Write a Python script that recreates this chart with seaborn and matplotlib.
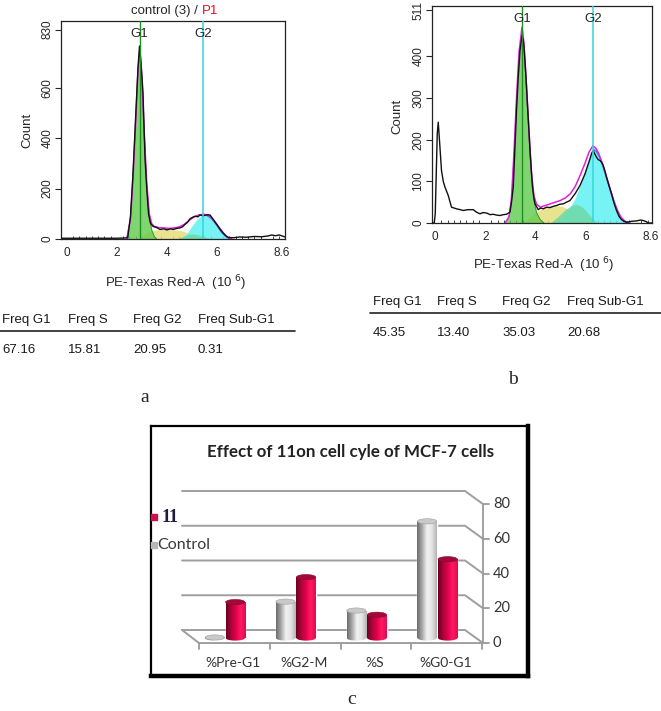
import numpy as np
import pandas as pd
import seaborn as sns
import matplotlib.pyplot as plt
from matplotlib.colors import LinearSegmentedColormap
from matplotlib.patches import Ellipse
from matplotlib.ticker import MultipleLocator

# ---- panel a: control histogram (x in 10^6, y = count) ----
a_black_x = [-0.23, 0.5, 1.0, 1.5, 2.0, 2.3, 2.44, 2.55, 2.65, 2.75, 2.85, 2.91, 2.97, 3.05, 3.13, 3.2,
             3.27, 3.35, 3.45, 3.6, 3.73, 3.9, 4.0, 4.15, 4.27, 4.4, 4.53, 4.63, 4.73, 4.83, 4.93, 5.03,
             5.13, 5.25, 5.33, 5.45, 5.53, 5.63, 5.73, 5.8, 5.87, 5.97, 6.07, 6.17, 6.27, 6.37, 6.47,
             6.67, 6.9, 7.2, 7.5, 7.8, 8.05, 8.2, 8.35, 8.5, 8.73]
a_black_y = [3, 3, 3, 3, 3, 4, 5, 90, 260, 470, 680, 765, 700, 580, 320, 200,
             100, 62, 50, 45, 38, 40, 36, 40, 38, 42, 44, 48, 58, 66, 80, 86,
             90, 88, 95, 92, 94, 96, 95, 86, 76, 62, 48, 34, 22, 12, 6,
             5, 8, 7, 10, 9, 12, 16, 13, 16, 8]
a_fit_x = [2.4, 2.55, 2.65, 2.75, 2.85, 2.92, 3.0, 3.1, 3.2, 3.3, 3.4, 3.5, 3.7, 3.9, 4.1, 4.3, 4.5,
           4.7, 4.9, 5.1, 5.3, 5.5, 5.7, 5.9, 6.1, 6.3, 6.45, 6.6]
a_fit_y = [0, 80, 240, 450, 670, 745, 650, 420, 220, 100, 60, 50, 45, 44, 42, 44, 48,
           58, 74, 88, 96, 98, 92, 72, 45, 20, 6, 0]
a_g1_x = [2.4, 2.55, 2.65, 2.75, 2.85, 2.92, 3.0, 3.1, 3.2, 3.3, 3.4, 3.5, 3.6]
a_g1_y = [0, 80, 240, 440, 660, 740, 640, 410, 210, 90, 35, 10, 0]
a_s_x = [2.9, 3.1, 3.3, 3.5, 3.8, 4.1, 4.4, 4.7, 5.0, 5.2, 5.4]
a_s_y = [0, 20, 30, 36, 38, 38, 36, 30, 18, 8, 0]
a_mid_x = [4.4, 4.7, 5.0, 5.2, 5.4, 5.6, 5.8]
a_mid_y = [0, 12, 20, 18, 12, 5, 0]
a_g2_x = [4.6, 4.8, 5.0, 5.2, 5.4, 5.6, 5.8, 6.0, 6.2, 6.4, 6.55]
a_g2_y = [0, 20, 50, 78, 92, 94, 80, 55, 25, 7, 0]

# ---- panel b: treated histogram ----
b_black_x = [-0.13, -0.04, 0.0, 0.04, 0.08, 0.12, 0.17, 0.25, 0.32, 0.39, 0.52, 0.65, 0.75, 0.85, 1.0,
             1.12, 1.3, 1.52, 1.65, 1.79, 1.9, 2.05, 2.2, 2.32, 2.45, 2.59, 2.72, 2.85, 2.99, 3.05,
             3.12, 3.18, 3.25, 3.32, 3.39, 3.47, 3.52, 3.56, 3.62, 3.68, 3.74, 3.79, 3.84, 3.89, 3.94,
             3.99, 4.12, 4.22, 4.32, 4.45, 4.59, 4.72, 4.85, 4.98, 5.12, 5.25, 5.39, 5.49, 5.59, 5.69,
             5.79, 5.89, 5.99, 6.09, 6.19, 6.26, 6.32, 6.38, 6.45, 6.52, 6.59, 6.65, 6.72, 6.79, 6.85,
             6.95, 7.05, 7.15, 7.25, 7.35, 7.45, 7.55, 7.65, 7.85, 8.05, 8.2, 8.32, 8.45, 8.52, 8.67]
b_black_y = [0, 0, 22, 118, 214, 242, 198, 126, 100, 86, 66, 38, 36, 34, 32,
             30, 32, 32, 26, 22, 25, 24, 20, 21, 19, 18, 20, 21, 26, 50,
             86, 170, 270, 350, 414, 450, 440, 414, 360, 294, 230, 174, 130, 86, 62,
             46, 32, 36, 34, 38, 37, 40, 42, 45, 46, 50, 54, 62, 70, 80,
             90, 104, 118, 136, 154, 168, 174, 166, 158, 152, 150, 146, 138, 124, 110,
             90, 70, 48, 30, 16, 8, 4, 2, 4, 5, 7, 6, 3, 0, 0]
b_fit_x = [2.8, 2.95, 3.05, 3.15, 3.25, 3.35, 3.47, 3.55, 3.65, 3.75, 3.85, 3.95, 4.05, 4.2, 4.4,
           4.6, 4.8, 5.0, 5.2, 5.4, 5.6, 5.8, 6.0, 6.15, 6.3, 6.42, 6.55, 6.7, 6.85, 7.0, 7.15,
           7.3, 7.45, 7.6, 7.75]
b_fit_y = [0, 15, 60, 170, 300, 410, 470, 430, 330, 220, 120, 65, 45, 38, 42,
           46, 50, 54, 60, 70, 88, 115, 145, 170, 185, 180, 165, 140, 110, 80, 52,
           28, 12, 3, 0]
b_g1_x = [2.8, 2.95, 3.05, 3.15, 3.25, 3.35, 3.47, 3.55, 3.65, 3.75, 3.85, 3.95, 4.05, 4.2, 4.35]
b_g1_y = [0, 12, 50, 160, 290, 400, 460, 420, 320, 210, 110, 55, 25, 8, 0]
b_s_x = [3.5, 3.8, 4.0, 4.2, 4.5, 4.8, 5.1, 5.4, 5.7, 6.0, 6.2]
b_s_y = [0, 15, 25, 32, 40, 42, 40, 30, 18, 6, 0]
b_mid_x = [4.6, 4.9, 5.2, 5.45, 5.65, 5.85, 6.05, 6.3, 6.5]
b_mid_y = [0, 15, 32, 42, 45, 40, 28, 10, 0]
b_g2_x = [4.7, 5.0, 5.3, 5.6, 5.85, 6.05, 6.2, 6.32, 6.45, 6.6, 6.8, 7.0, 7.2, 7.4, 7.6, 7.8]
b_g2_y = [0, 10, 28, 60, 100, 140, 165, 178, 172, 155, 120, 80, 42, 15, 4, 0]

# ---- tables ----
freq_headers = ['Freq G1', 'Freq S', 'Freq G2', 'Freq Sub-G1']
freq_control = ['67.16', '15.81', '20.95', '0.31']
freq_treated = ['45.35', '13.40', '35.03', '20.68']

# ---- panel c: bar chart ----
phases = ['%Pre-G1', '%G2-M', '%S', '%G0-G1']
control_pct = [0.31, 20.95, 15.81, 67.16]
treated_pct = [20.68, 35.03, 13.40, 45.35]

sns.set_style('white')
plt.rcParams['font.family'] = ['Liberation Sans', 'DejaVu Sans']

W, H = 661, 711
fig = plt.figure(figsize=(W / 100, H / 100), dpi=100)


def box(l, t, r, b):
    return [l / W, 1 - b / H, (r - l) / W, (b - t) / H]


def ftext(x, y, s, **kw):
    fig.text(x / W, 1 - y / H, s, **kw)


def histogram(ax, d, xlim, ylim, yticks, g1, g2):
    fx = lambda k: d[k + '_x']
    fy = lambda k: d[k + '_y']
    ax.fill_between(fx('s'), fy('s'), color='#e4de7c', alpha=0.85, lw=0, zorder=1)
    ax.fill_between(fx('mid'), fy('mid'), color='#6fd9a6', alpha=0.85, lw=0, zorder=1.2)
    ax.fill_between(fx('g2'), fy('g2'), color='#5ff0f4', alpha=0.85, lw=0, zorder=1.1)
    ax.fill_between(fx('g1'), fy('g1'), color='#5fcc4c', alpha=0.8, lw=0, zorder=1.3)
    pk = int(np.argmax(fy('g2')))
    ax.plot(fx('g2')[pk:], fy('g2')[pk:], color='#3d8fe6', lw=1.1, zorder=1.4)
    ax.plot(fx('g1'), fy('g1'), color='#3a9a30', lw=0.7, zorder=1.4)
    sns.lineplot(x=fx('fit'), y=fy('fit'), color='#e020e0', lw=1.1, estimator=None, ax=ax, zorder=2)
    sns.lineplot(x=fx('black'), y=fy('black'), color='#111111', lw=1.0, estimator=None, ax=ax, zorder=3)
    ax.axvline(g1, color='#1f8f1f', lw=1.0, zorder=4)
    ax.axvline(g2, color='#35d5dd', lw=1.1, zorder=4)
    ax.text(g1, ylim[1] * 0.94, 'G1', ha='center', va='center', fontsize=9.5, zorder=5)
    ax.text(g2, ylim[1] * 0.94, 'G2', ha='center', va='center', fontsize=9.5, zorder=5)
    ax.set_xlim(*xlim)
    ax.set_ylim(*ylim)
    ax.set_xticks([0, 2, 4, 6, 8, 8.6])
    ax.set_xticklabels(['0', '2', '4', '6', '', '8.6'])
    ax.xaxis.set_minor_locator(MultipleLocator(0.25))
    ax.set_yticks(yticks)
    ax.tick_params(axis='x', which='major', direction='out', length=4, width=0.8, labelsize=8.5, pad=2)
    ax.tick_params(axis='x', which='minor', direction='in', length=2.5, width=0.6, bottom=True)
    ax.tick_params(axis='y', direction='out', length=4, width=0.8, labelsize=8.5, pad=1.5, left=True)
    for lab in ax.get_yticklabels():
        lab.set_rotation(90)
        lab.set_va('center')
    for s in ax.spines.values():
        s.set_color('#222222')
        s.set_linewidth(0.9)
    ax.set_xlabel('')
    ax.set_ylabel('')


da = dict(black_x=a_black_x, black_y=a_black_y, fit_x=a_fit_x, fit_y=a_fit_y, g1_x=a_g1_x, g1_y=a_g1_y,
          s_x=a_s_x, s_y=a_s_y, mid_x=a_mid_x, mid_y=a_mid_y, g2_x=a_g2_x, g2_y=a_g2_y)
db = dict(black_x=b_black_x, black_y=b_black_y, fit_x=b_fit_x, fit_y=b_fit_y, g1_x=b_g1_x, g1_y=b_g1_y,
          s_x=b_s_x, s_y=b_s_y, mid_x=b_mid_x, mid_y=b_mid_y, g2_x=b_g2_x, g2_y=b_g2_y)

axa = fig.add_axes(box(61, 21, 285, 239))
histogram(axa, da, (-0.23, 8.73), (0, 864), [0, 200, 400, 600, 830], 2.91, 5.44)
axb = fig.add_axes(box(432, 6, 652, 223))
histogram(axb, db, (-0.13, 8.67), (0, 521), [0, 100, 200, 300, 400, 511], 3.48, 6.32)

# titles and axis labels of the histograms
ftext(201, 11, 'control (3) / ', ha='right', va='center', fontsize=9.5)
ftext(202, 11, 'P1', ha='left', va='center', fontsize=9.5, color='#e0102a')
ftext(27, 130, 'Count', rotation=90, ha='center', va='center', fontsize=9.5)
ftext(397, 116, 'Count', rotation=90, ha='center', va='center', fontsize=9.5)
ftext(175, 283, r'PE-Texas Red-A  (10$^{\ 6}$)', ha='center', va='center', fontsize=9.5)
ftext(543, 265, r'PE-Texas Red-A  (10$^{\ 6}$)', ha='center', va='center', fontsize=9.5)

# frequency tables
for xs, yh, yv, yl, (l0, l1), vals in [([2, 68, 133, 198], 320, 350, 331, (0, 295), freq_control),
                                      ([373, 437, 502, 567], 302, 333, 313, (370, 661), freq_treated)]:
    for x, h, v in zip(xs, freq_headers, vals):
        ftext(x, yh, h, ha='left', va='center', fontsize=9.5, color='#1a1a1a')
        ftext(x, yv, v, ha='left', va='center', fontsize=9.5, color='#1a1a1a')
    fig.add_artist(plt.Line2D([l0 / W, l1 / W], [1 - yl / H] * 2, color='#222222', lw=1.2))

ftext(145, 397, 'a', family='Liberation Serif', fontsize=14, ha='center', va='center')
ftext(513, 380, 'b', family='Liberation Serif', fontsize=14, ha='center', va='center')
ftext(352, 700, 'c', family='Liberation Serif', fontsize=14, ha='center', va='center')

# ---- panel c ----
axc = fig.add_axes(box(151, 426, 528, 676))
df = pd.DataFrame({'phase': phases * 2,
                   'value': control_pct + treated_pct,
                   'group': ['Control'] * 4 + ['11'] * 4})
sns.barplot(data=df, x='phase', y='value', hue='group', order=phases, hue_order=['Control', '11'],
            palette={'Control': '#c8c8c8', '11': '#d0104a'}, width=0.58, gap=0.06,
            errorbar=None, legend=False, ax=axc, zorder=3)

cm_gray = LinearSegmentedColormap.from_list('g', ['#6c6c6c', '#a8a8a8', '#f2f2f2', '#e4e4e4', '#b4b4b4'])
cm_red = LinearSegmentedColormap.from_list('r', ['#6e0022', '#a8063a', '#e4004e', '#ff1a62', '#e00a50'])
cap = 3.0
grad = np.linspace(0, 1, 64).reshape(1, -1)
for p in list(axc.patches):
    x0, w, h = p.get_x(), p.get_width(), p.get_height()
    xc = x0 + w / 2
    red = p.get_facecolor()[1] < 0.3
    cmap = cm_red if red else cm_gray
    bottom = Ellipse((xc, 0), w, cap, fc='none', ec='none')
    axc.add_patch(bottom)
    for clip in (p, bottom):
        im = axc.imshow(grad, extent=[x0, x0 + w, -cap, h], cmap=cmap, aspect='auto',
                        interpolation='bilinear', zorder=3.1)
        im.set_clip_path(clip)
    axc.add_patch(Ellipse((xc, h), w, cap, fc='#a10a38' if red else '#c9c9c9',
                          ec='#8a0a30' if red else '#a0a0a0', lw=0.4, zorder=3.2))

# pseudo-3D walls, floor and axis
bx0, bx1, fx0, fx1 = -0.607, 3.39, -0.367, 3.644
back, front = 4.6, -2.9
wall = dict(color='#9e9e9e', lw=1.4, zorder=1, solid_capstyle='round')
for v in [0, 20, 40, 60, 80]:
    axc.plot([bx0, bx1, fx1], [v + back, v + back, v + front], **wall)
axc.plot([bx0, fx0, fx1], [back, front, front], **wall)
axc.plot([fx1, fx1], [front, 80 + front], color='#9a9a9a', lw=1.3, zorder=1)
for v in [0, 20, 40, 60, 80]:
    axc.plot([fx1, fx1 + 0.085], [v + front] * 2, color='#9a9a9a', lw=1.3, zorder=1)
    axc.text(fx1 + 0.14, v + front, str(v), ha='left', va='center', fontsize=10.5,
             family='Lato', color='#333333')
for k in range(5):
    axc.plot([fx0 + k] * 2, [front, front - 3.2], color='#9a9a9a', lw=1.3, zorder=1)
for k, lab in enumerate(phases):
    axc.text(k + 0.12, -14.4, lab, ha='center', va='center', fontsize=10, family='Lato', color='#333333')

axc.text(1.77, 107, 'Effect of 11on cell cyle of MCF-7 cells', ha='center', va='center',
         fontsize=12.2, family='Lato', fontweight='bold', color='#222222')
axc.plot([-1.0], [69.6], marker='s', ms=5, color='#d0104a', clip_on=False, zorder=5)
axc.text(-0.89, 69.6, '11', ha='left', va='center', fontsize=13, family='Liberation Serif',
         fontweight='bold', color='#1c1c3c')
axc.plot([-1.0], [53.5], marker='s', ms=5, color='#b8b8b8', clip_on=False, zorder=5)
axc.text(-0.955, 53.5, 'Control', ha='left', va='center', fontsize=11.5, family='Lato', color='#3a3a3a')

axc.set_xlim((151 - 225) / 70.8, (528 - 225) / 70.8)
axc.set_ylim((638 - 676) / 1.7375, (638 - 426) / 1.7375)
axc.set_xticks([])
axc.set_yticks([])
axc.set_xlabel('')
axc.set_ylabel('')
for name, s in axc.spines.items():
    s.set_visible(True)
    s.set_color('black')
    s.set_linewidth(3.2 if name in ('right', 'bottom') else 1.6)

fig.savefig('out.png', dpi=100)
